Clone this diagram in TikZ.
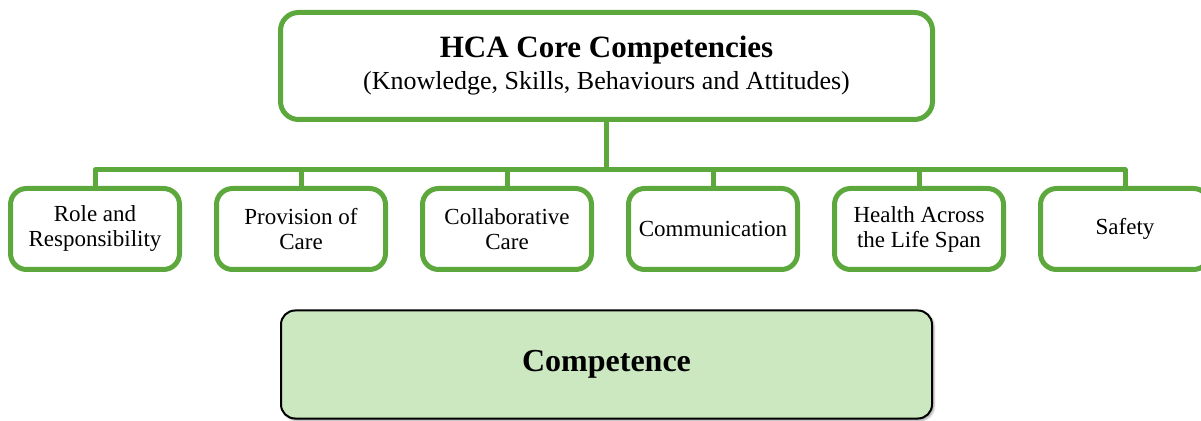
\documentclass[tikz,border=0pt]{standalone}
\usepackage{fontspec}
\setmainfont{Liberation Serif}
\definecolor{leafgreen}{RGB}{92,168,60}
\definecolor{palegreen}{RGB}{203,232,193}
\usetikzlibrary{positioning,shadows.blur}

\begin{document}
\begin{tikzpicture}[x=1pt, y=1pt,
        compbox/.style={draw=leafgreen, line width=5pt, rounded corners=16pt, fill=white, align=center,
            minimum width=169pt, minimum height=81pt, inner sep=2pt, font=\fontsize{23}{25}\selectfont},
        link/.style={draw=leafgreen, line width=5pt, line join=round}]
    \useasboundingbox (0,0) rectangle (1201,420);

    % top level
    \node[compbox, minimum width=652pt, minimum height=107pt, rounded corners=18pt,
        font=\fontsize{26}{32}\selectfont] (core) at (606.5,354)
        {{\fontsize{31}{32}\selectfont\bfseries HCA Core Competencies}\\(Knowledge, Skills, Behaviours and Attitudes)};

    % the six competency areas
    \node[compbox] (role) at (95,191) {Role and\\Responsibility};
    \node[compbox, right=32pt of role] (provision) {Provision of\\Care};
    \node[compbox, right=32pt of provision] (collab) {Collaborative\\Care};
    \node[compbox, right=32pt of collab] (comm) {Communication};
    \node[compbox, right=32pt of comm] (health) {Health Across\\the Life Span};
    \node[compbox, right=32pt of health] (safety) {Safety};

    \coordinate (bus) at (606.5,250);
    \draw[link] (core.south) -- (bus);
    \foreach \area in {role,provision,collab,comm,health,safety}
        \draw[link] (bus) -| (\area.north);

    \node[draw=black, line width=2pt, rounded corners=14pt, fill=palegreen,
        minimum width=651pt, minimum height=108pt, font=\fontsize{32}{36}\selectfont\bfseries,
        blur shadow={shadow xshift=2pt, shadow yshift=-2pt, shadow blur steps=5, shadow opacity=35}]
        (competence) at (606.5,55.5) {Competence};
\end{tikzpicture}
\end{document}
